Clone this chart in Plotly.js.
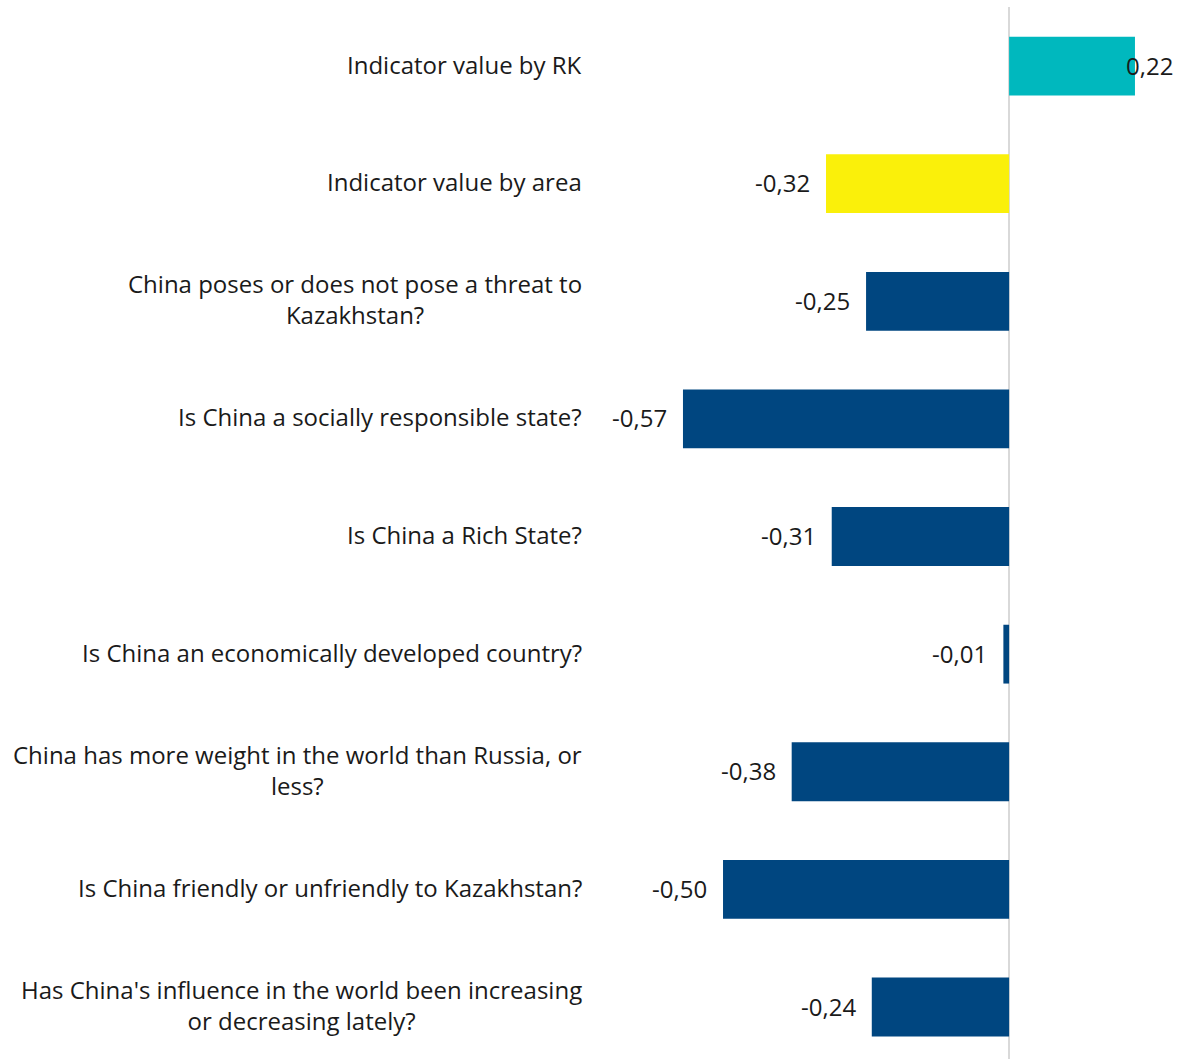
<!DOCTYPE html>
<html>
<head>
<meta charset="utf-8">
<script src="https://cdn.plot.ly/plotly-3.0.1.min.js"></script>
<style>html,body{margin:0;padding:0;background:#fff;}#chart{width:1180px;height:1059px;}</style>
</head>
<body>
<div id="chart"></div>
<script>
const categories = [
  "Indicator value by RK",
  "Indicator value by area",
  "China poses or does not pose a threat to Kazakhstan?",
  "Is China a socially responsible state?",
  "Is China a Rich State?",
  "Is China an economically developed country?",
  "China has more weight in the world than Russia, or less?",
  "Is China friendly or unfriendly to Kazakhstan?",
  "Has China's influence in the world been increasing or decreasing lately?"
];
const tickLabels = [
  "Indicator value by RK",
  "Indicator value by area",
  "China poses or does not pose a threat to<br>Kazakhstan?",
  "Is China a socially responsible state?",
  "Is China a Rich State?",
  "Is China an economically developed country?",
  "China has more weight in the world than Russia, or<br>less?",
  "Is China friendly or unfriendly to Kazakhstan?",
  "Has China's influence in the world been increasing<br>or decreasing lately?"
];
const values = [0.22, -0.32, -0.25, -0.57, -0.31, -0.01, -0.38, -0.50, -0.24];

const barColors = ["#00B8BE", "#FAF00A", "#004680", "#004680", "#004680", "#004680", "#004680", "#004680", "#004680"];
const fontFamily = '"Open Sans", "Noto Sans", sans-serif';
const textColor = "#1a1a1a";

const trace = {
  type: "bar",
  orientation: "h",
  y: categories,
  x: values,
  marker: {color: barColors, line: {width: 0}},
  hoverinfo: "none"
};

const annotations = [];
categories.forEach((c, i) => {
  annotations.push({
    xref: "paper", yref: "y", x: 0, y: c,
    xanchor: "right", yanchor: "middle", xshift: -6, yshift: 2,
    text: tickLabels[i], showarrow: false, align: "center",
    font: {family: fontFamily, size: 24, color: textColor}
  });
  const v = values[i];
  annotations.push({
    xref: "x", yref: "y", x: v, y: c,
    xanchor: v < 0 ? "right" : "left", yanchor: "middle",
    xshift: v < 0 ? -14 : -11, yshift: 1,
    text: v.toFixed(2).replace(".", ","), showarrow: false,
    font: {family: fontFamily, size: 24, color: textColor}
  });
});

const layout = {
  width: 1180, height: 1059,
  margin: {l: 590, r: 0, t: 7, b: 0, pad: 0},
  paper_bgcolor: "#ffffff", plot_bgcolor: "#ffffff",
  bargap: 0.5,
  showlegend: false,
  xaxis: {
    range: [-0.7325, 0.2987],
    showgrid: false, showticklabels: false, ticks: "",
    zeroline: true, zerolinecolor: "#d9d9d9", zerolinewidth: 2,
    showline: false, fixedrange: true
  },
  yaxis: {
    type: "category",
    categoryorder: "array", categoryarray: categories,
    range: [8.442, -0.502],
    showgrid: false, showticklabels: false, ticks: "",
    zeroline: false, showline: false, fixedrange: true
  },
  annotations: annotations,
  font: {family: fontFamily, size: 24, color: textColor}
};

Plotly.newPlot("chart", [trace], layout, {displayModeBar: false, staticPlot: true});
</script>
</body>
</html>
